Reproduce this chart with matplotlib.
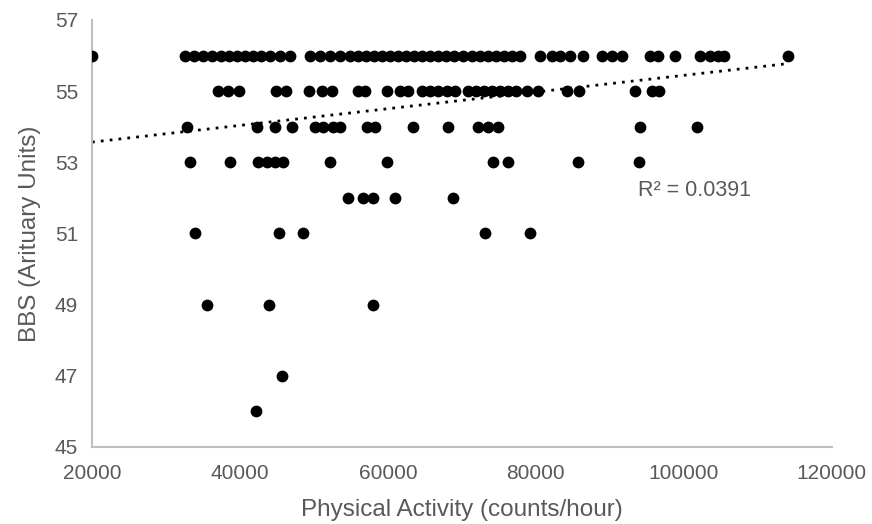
import numpy as np
import matplotlib
matplotlib.use('Agg')
import matplotlib.pyplot as plt
import matplotlib.ticker as ticker

plt.rcParams['font.family'] = ['Liberation Sans', 'DejaVu Sans']

# physical activity (counts/hour) per BBS level
x56 = [20000, 32560, 33780, 35000, 36200, 37430, 38500, 39590, 40670, 41750,
       42830, 44050, 45400, 46750, 49450, 50800, 52150, 53500, 54860, 55940,
       57020, 58100, 59180, 60260, 61340, 62420, 63500, 64580, 65660, 66740,
       67830, 68910, 70120, 71340, 72420, 73500, 74580, 75660, 76740, 77820,
       80520, 82150, 83230, 84580, 86330, 88900, 90250, 91600, 95390, 96470,
       98760, 102140, 103490, 104570, 105380, 114030]
x55 = [37020, 38370, 39860, 44860, 46210, 49320, 51070, 52420, 55940, 56880,
       59850, 61610, 62690, 64580, 65660, 66740, 67960, 69040, 70800, 71880,
       72960, 74040, 75120, 76200, 77280, 78770, 80250, 84170, 85790, 93360,
       95660, 96600]
x54 = [32830, 42290, 44720, 47020, 50130, 51210, 52560, 53500, 57150, 58230,
       63370, 68100, 72150, 73500, 74850, 94030, 101740]
x53 = [33240, 38640, 42430, 43640, 44720, 45800, 52150, 59850, 74180, 76200,
       85660, 93900]
x52 = [54590, 56610, 57960, 60940, 68770]
x51 = [33920, 45260, 48510, 73090, 79170]
x49 = [35540, 43910, 57960]
x47 = [45670]
x46 = [42160]

groups = {56: x56, 55: x55, 54: x54, 53: x53, 52: x52, 51: x51,
          49: x49, 47: x47, 46: x46}
activity = np.concatenate([np.array(v, float) for v in groups.values()])
bbs = np.concatenate([np.full(len(v), k, float) for k, v in groups.items()])

fig = plt.figure(figsize=(8.72, 5.24), dpi=100)
ax = fig.add_axes([0.1055, 0.147, 0.8485, 0.815])

ax.scatter(activity, bbs, s=72, color='black', zorder=3, linewidths=0)

# linear trendline
slope, icept = np.polyfit(activity, bbs, 1)
xl = np.array([20000, activity.max()])
ax.plot(xl, slope * xl + icept, color='black', linestyle=(0, (1, 2.2)),
        linewidth=2, zorder=2)
ax.text(638 / 872, 1 - 190 / 524, 'R² = 0.0391', transform=fig.transFigure,
        fontsize=15.5, color='#595959', ha='left', va='center')

ax.set_xlim(20000, 120000)
ax.set_ylim(45, 57)
ax.xaxis.set_major_locator(ticker.MultipleLocator(20000))
ax.yaxis.set_major_locator(ticker.FixedLocator(range(45, 58, 2)))
ax.tick_params(length=0, labelsize=15, labelcolor='#595959')
ax.tick_params(axis='y', pad=10)
ax.tick_params(axis='x', pad=12)
for s in ['top', 'right']:
    ax.spines[s].set_visible(False)
for s in ['left', 'bottom']:
    ax.spines[s].set_color('#bfbfbf')
    ax.spines[s].set_linewidth(1.5)
ax.set_xlabel('Physical Activity (counts/hour)', fontsize=17.5,
              color='#595959', labelpad=12)
ax.set_ylabel('BBS (Arituary Units)', fontsize=17.5, color='#595959',
              labelpad=10)

fig.savefig('out.png', dpi=100)
